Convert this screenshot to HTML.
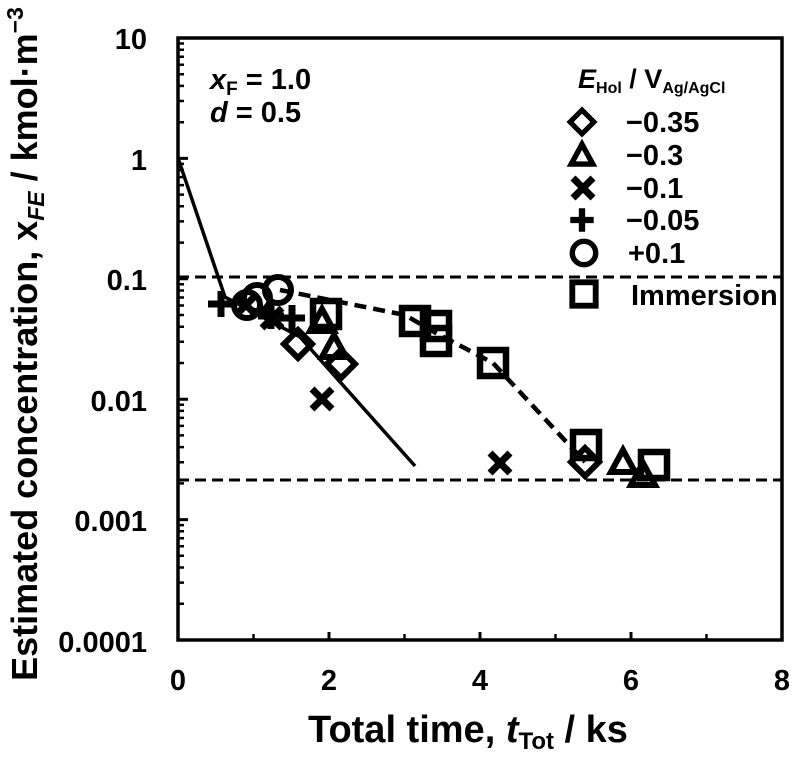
<!DOCTYPE html>
<html>
<head>
<meta charset="utf-8">
<style>
  html, body { margin:0; padding:0; background:#fff; }
  svg { display:block; }
  text { font-family: "Liberation Sans", Arial, sans-serif; font-weight: bold; fill:#000; }
</style>
</head>
<body>
<svg width="800" height="759" viewBox="0 0 800 759" xmlns="http://www.w3.org/2000/svg">
  <defs>
    <g id="sq"><rect x="-13" y="-13" width="26" height="26" fill="none" stroke="#000" stroke-width="6.5"/></g>
    <g id="di"><path d="M0,-14 L14,0 L0,14 L-14,0 Z" fill="none" stroke="#000" stroke-width="6" stroke-linejoin="miter"/></g>
    <g id="tr"><path d="M0,-13 L12,9 L-12,9 Z" fill="none" stroke="#000" stroke-width="6" stroke-linejoin="miter"/></g>
    <g id="xx"><path d="M-10,-10 L10,10 M10,-10 L-10,10" fill="none" stroke="#000" stroke-width="7"/></g>
    <g id="pl"><path d="M-13,0 H13 M0,-13 V13" fill="none" stroke="#000" stroke-width="7"/></g>
    <g id="ci"><circle cx="0" cy="0" r="13" fill="none" stroke="#000" stroke-width="6"/></g>
  </defs>

  <rect x="0" y="0" width="800" height="759" fill="#fff"/>

  <!-- frame -->
  <rect x="178" y="38" width="604" height="602" fill="none" stroke="#000" stroke-width="3.5"/>

  <!-- y major ticks -->
  <path d="M178,38 h10 M178,158.4 h10 M178,278.8 h10 M178,399.2 h10 M178,519.6 h10" stroke="#000" stroke-width="3"/>
  <!-- y minor ticks -->
  <path stroke="#000" stroke-width="2.5" d="
    M178,603.8 h6 M178,582.6 h6 M178,567.5 h6 M178,555.8 h6 M178,546.3 h6 M178,538.3 h6 M178,531.3 h6 M178,525.1 h6
    M178,483.4 h6 M178,462.2 h6 M178,447.1 h6 M178,435.4 h6 M178,425.9 h6 M178,417.9 h6 M178,410.9 h6 M178,404.7 h6
    M178,363.0 h6 M178,341.8 h6 M178,326.7 h6 M178,315.0 h6 M178,305.5 h6 M178,297.5 h6 M178,290.5 h6 M178,284.3 h6
    M178,242.6 h6 M178,221.4 h6 M178,206.3 h6 M178,194.6 h6 M178,185.1 h6 M178,177.1 h6 M178,170.1 h6 M178,163.9 h6
    M178,122.2 h6 M178,101.0 h6 M178,85.9 h6 M178,74.2 h6 M178,64.7 h6 M178,56.7 h6 M178,49.7 h6 M178,43.5 h6"/>
  <!-- x ticks -->
  <path stroke="#000" stroke-width="3" d="M329,640 v-8 M480,640 v-8 M631,640 v-8"/>
  <path stroke="#000" stroke-width="2.5" d="M253.5,640 v-6 M404.5,640 v-6 M555.5,640 v-6 M706.5,640 v-6"/>

  <!-- y tick labels -->
  <g font-size="29" text-anchor="end">
    <text x="147" y="49">10</text>
    <text x="147" y="170">1</text>
    <text x="147" y="290">0.1</text>
    <text x="147" y="411">0.01</text>
    <text x="147" y="531">0.001</text>
    <text x="147" y="652">0.0001</text>
  </g>
  <!-- x tick labels -->
  <g font-size="29" text-anchor="middle">
    <text x="178" y="690">0</text>
    <text x="329" y="690">2</text>
    <text x="480" y="690">4</text>
    <text x="631" y="690">6</text>
    <text x="782" y="690">8</text>
  </g>

  <!-- axis titles -->
  <text x="468" y="742" font-size="38" text-anchor="middle">Total time, <tspan font-style="italic">t</tspan><tspan font-size="24" dy="7">Tot</tspan><tspan dy="-7"> / ks</tspan></text>
  <text transform="translate(37,344) rotate(-90)" font-size="36" text-anchor="middle">Estimated concentration, x<tspan font-size="23" font-style="italic" dy="7">FE</tspan><tspan dy="-7"> / kmol·m</tspan><tspan font-size="23" dy="-14">−3</tspan></text>

  <!-- annotations -->
  <text x="210" y="89" font-size="29"><tspan font-style="italic">x</tspan><tspan font-size="19" dy="6">F</tspan><tspan dy="-6"> = 1.0</tspan></text>
  <text x="210" y="122" font-size="29"><tspan font-style="italic">d</tspan> = 0.5</text>

  <!-- dashed horizontal lines -->
  <path d="M178,277 H782" stroke="#000" stroke-width="3" stroke-dasharray="11 6" fill="none"/>
  <path d="M178,480 H782" stroke="#000" stroke-width="3" stroke-dasharray="11 6" fill="none"/>

  <!-- solid line -->
  <path d="M178,158 L225,297 L300,337 L415,466" stroke="#000" stroke-width="3.5" fill="none"/>
  <!-- dashed curve -->
  <path d="M280,290 L405,315 L436,333 L493,363 L585,462" stroke="#000" stroke-width="4.5" stroke-dasharray="12 7" fill="none"/>

  <!-- data markers -->
  <use href="#sq" transform="translate(326,314)"/>
  <use href="#sq" transform="translate(415,321)"/>
  <use href="#sq" transform="translate(436,326)"/>
  <use href="#sq" transform="translate(436,341)"/>
  <use href="#sq" transform="translate(493,363)"/>
  <use href="#sq" transform="translate(586,445)"/>
  <use href="#sq" transform="translate(654,465)"/>

  <use href="#di" transform="translate(298,344)"/>
  <use href="#di" transform="translate(341,364)"/>
  <use href="#di" transform="translate(585,462)"/>

  <use href="#tr" transform="translate(322,322)"/>
  <use href="#tr" transform="translate(334,348)"/>
  <use href="#tr" transform="translate(623,463)"/>
  <use href="#tr" transform="translate(643,476)"/>

  <use href="#xx" transform="translate(246,305)"/>
  <use href="#xx" transform="translate(272,318)"/>
  <use href="#xx" transform="translate(322,399)"/>
  <use href="#xx" transform="translate(500,463)"/>

  <use href="#pl" transform="translate(221,304)"/>
  <use href="#pl" transform="translate(271,316)"/>
  <use href="#pl" transform="translate(292,318)"/>

  <use href="#ci" transform="translate(247,305)"/>
  <use href="#ci" transform="translate(257,298)"/>
  <use href="#ci" transform="translate(278,290)"/>

  <!-- legend -->
  <text x="578" y="88" font-size="27"><tspan font-style="italic">E</tspan><tspan font-size="16" dy="5">Hol</tspan><tspan dy="-5"> / V</tspan><tspan font-size="16" dy="5">Ag/AgCl</tspan></text>
  <use href="#di" transform="translate(582,122) scale(0.85)"/>
  <use href="#tr" transform="translate(582,156) scale(0.9)"/>
  <use href="#xx" transform="translate(583,188) scale(1)"/>
  <use href="#pl" transform="translate(582,220) scale(0.9)"/>
  <use href="#ci" transform="translate(584,253) scale(0.9)"/>
  <use href="#sq" transform="translate(584,294) scale(0.9)"/>
  <g font-size="29">
    <text x="626" y="132">−0.35</text>
    <text x="626" y="165">−0.3</text>
    <text x="626" y="198">−0.1</text>
    <text x="626" y="230">−0.05</text>
    <text x="628" y="263">+0.1</text>
    <text x="631" y="305">Immersion</text>
  </g>
</svg>
</body>
</html>
